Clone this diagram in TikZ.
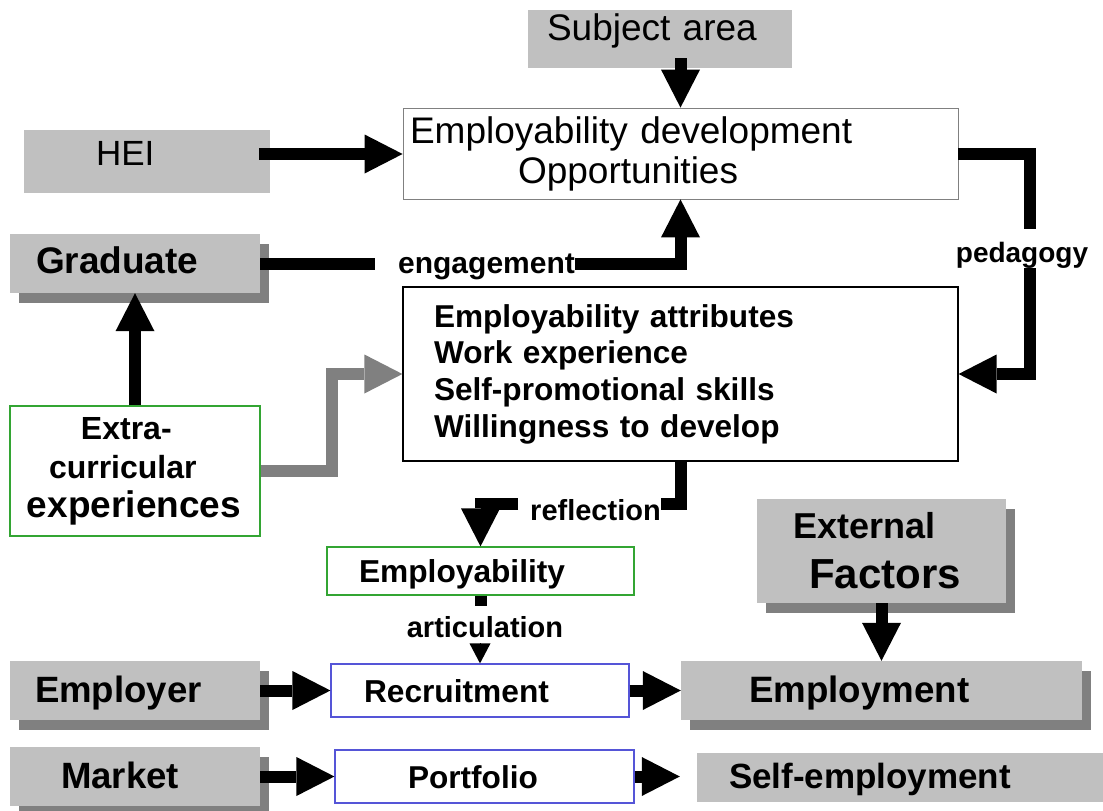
\documentclass[tikz,border=0pt]{standalone}
\usepackage{xcolor}
\usepackage{fontspec}
\setmainfont{Liberation Sans}
\usepackage{tikz}
\usetikzlibrary{arrows.meta, calc, shadows}

\definecolor{boxgrey}{RGB}{192,192,192}
\definecolor{shadegrey}{RGB}{128,128,128}
\definecolor{edgegreen}{RGB}{51,165,51}
\definecolor{edgeblue}{RGB}{85,85,215}

\begin{document}
\begin{tikzpicture}[x=1pt, y=-1pt,
greybox/.style={rectangle, fill=boxgrey, inner ysep=0pt, align=left},
shadowed/.style={greybox, drop shadow={shadow xshift=9pt, shadow yshift=-10pt, fill=shadegrey, opacity=1}},
edged/.style={rectangle, draw=#1, fill=white, line width=1.2pt, inner ysep=0pt, align=left},
oneline/.style={text height=23pt, text depth=0pt},
regsize/.style={font=\fontsize{#1pt}{40pt}\selectfont},
boldsize/.style={font=\fontsize{#1pt}{40pt}\selectfont\bfseries},
lbl/.style={inner sep=0pt, anchor=base, font=\fontsize{#1pt}{34pt}\selectfont\bfseries},
bar/.style={line width=12pt},
fat/.style={line width=12pt, -{Triangle[length=38pt, width=39pt, line width=0pt]}},
thinhead/.style={line width=1pt, -{Triangle[length=20pt, width=21pt, line width=0pt]}}]
    \path[use as bounding box, fill=white] (0,0) rectangle (1103,811);

    % upper part
    \node[greybox, regsize=37, minimum width=264pt, minimum height=58pt, inner xsep=19pt, text width=226pt, text height=2pt, text depth=0pt] (subj) at (660,39) {Subject area};
    \node[greybox, regsize=35, minimum width=246pt, minimum height=63pt, inner xsep=72pt, text width=102pt, text height=7pt, text depth=0pt] (hei) at (147,161.5) {HEI};
    \node[edged=shadegrey, line width=0.8pt, regsize=37, minimum width=555pt, minimum height=91pt, inner xsep=7pt, text width=541pt] (edo) at (680.5,153.5) {Employability development\\ \hspace*{108pt}Opportunities};
    \node[shadowed, oneline, boldsize=37, text height=19pt, minimum width=250pt, minimum height=59pt, inner xsep=26pt, text width=198pt] (grad) at (135,263.5) {Graduate};
    \node[edged=black, font=\fontsize{31.6pt}{36.7pt}\selectfont\bfseries, minimum width=555pt, minimum height=174pt, inner xsep=31pt, text width=493pt] (attr) at (680.5,374) {Employability attributes\\Work experience\\Self-promotional skills\\Willingness to develop};
    \node[edged=edgegreen, font=\fontsize{32pt}{39pt}\selectfont\bfseries, minimum width=250pt, minimum height=130pt, inner xsep=17pt, text width=216pt] (extra) at (135,471) {\hspace*{54pt}Extra-\\ \hspace*{22pt}curricular\\ \fontsize{37pt}{40pt}\selectfont experiences};

    % lower part
    \node[shadowed, font=\fontsize{36pt}{50pt}\selectfont\bfseries, minimum width=249pt, minimum height=104pt, inner xsep=36pt, text width=177pt] (ext) at (881.5,551) {External\\ \fontsize{42pt}{50pt}\selectfont\hspace*{16pt}Factors};
    \node[edged=edgegreen, oneline, boldsize=31.7, text height=22pt, minimum width=307pt, minimum height=48pt, inner xsep=32pt, text width=243pt] (emp) at (480.5,571) {Employability};
    \node[shadowed, oneline, boldsize=36.6, minimum width=250pt, minimum height=59pt, inner xsep=25pt, text width=200pt] (employer) at (135,690.5) {Employer};
    \node[edged=edgeblue, oneline, boldsize=31.7, minimum width=298pt, minimum height=53pt, inner xsep=33pt, text width=232pt] (recr) at (480,690.5) {Recruitment};
    \node[shadowed, oneline, boldsize=36.7, minimum width=401pt, minimum height=59pt, inner xsep=68pt, text width=265pt] (employment) at (881.5,690.5) {Employment};
    \node[shadowed, oneline, boldsize=36.6, minimum width=250pt, minimum height=59pt, inner xsep=51pt, text width=148pt] (market) at (135,776.5) {Market};
    \node[edged=edgeblue, oneline, boldsize=31.6, minimum width=299pt, minimum height=53pt, inner xsep=73pt, text width=153pt] (port) at (484.5,776.5) {Portfolio};
    \node[greybox, oneline, boldsize=35, text height=21pt, minimum width=406pt, minimum height=49pt, inner xsep=32pt, text width=342pt] (selfemp) at (900,777.5) {Self-employment};

    % connector labels
    \node[lbl=30] (eng) at (486.5,273) {engagement};
    \node[lbl=28] (ped) at (1022,262) {pedagogy};
    \node[lbl=29] (refl) at (595.5,520) {reflection};
    \node[lbl=29] (artic) at (485,637) {articulation};

    % connectors
    \draw[fat] ([yshift=10pt]subj.south -| edo.north) -- (edo.north);
    \draw[fat] ([xshift=-11pt,yshift=7.5pt]hei.east) -- ([yshift=7.5pt]hei.east -| edo.west);
    \draw[bar] (grad.east) -- ([xshift=-23pt]eng.west |- grad.east);
    \draw[fat] (eng.east |- grad.east) -| (edo.south);
    \draw[bar] (edo.east) -| ([xshift=7.5pt,yshift=12.5pt]ped.north);
    \draw[fat] ([xshift=7.5pt]ped.south) |- (attr.east);
    \draw[fat] (extra.north) -- (grad.south);
    \draw[fat, draw=shadegrey] (extra.east) -| ($(extra.east)!0.5!(attr.west)$) |- (attr.west);
    \draw[bar] (attr.south) |- ([yshift=5.5pt]refl.east);
    \draw[fat] ([xshift=-12pt,yshift=5.5pt]refl.west) -| (emp.north);
    \draw[bar] (emp.south) -- ([yshift=10pt]artic.north -| emp.south);
    \draw[thinhead] ([yshift=-6pt]artic.south -| recr.north) -- (recr.north);
    \draw[fat] (employer.east) -- (recr.west);
    \draw[fat] (market.east) -- (port.west);
    \draw[fat] (recr.east) -- (employment.west);
    \draw[fat] (port.east) -- ([xshift=-17pt]selfemp.west |- port.east);
    \draw[fat] (ext.south) -- (employment.north);
\end{tikzpicture}
\end{document}
